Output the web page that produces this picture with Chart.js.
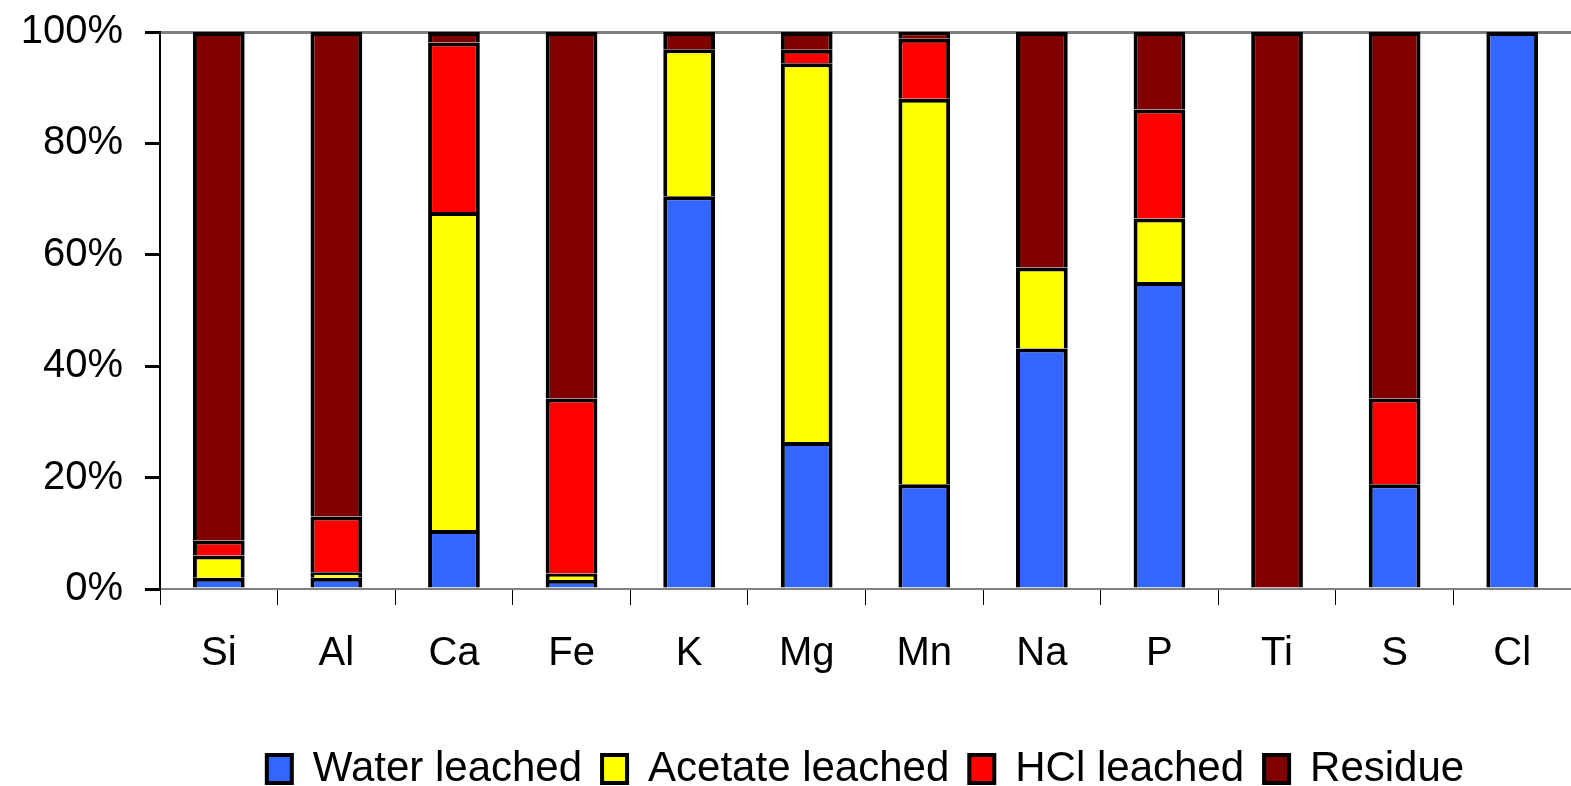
<!DOCTYPE html>
<html>
<head>
<meta charset="utf-8">
<script src="https://cdn.jsdelivr.net/npm/chart.js@4/dist/chart.umd.min.js"></script>
<style>
  html, body { margin: 0; padding: 0; background: #fff; }
  #wrap { width: 1571px; height: 786px; }
</style>
</head>
<body>
<div id="wrap"><canvas id="graph"></canvas></div>
<script>
const elements = ['Si', 'Al', 'Ca', 'Fe', 'K', 'Mg', 'Mn', 'Na', 'P', 'Ti', 'S', 'Cl']
const waterLeached   = [2.0, 2.0, 10.6, 1.6, 70.5, 26.4, 18.8, 43.2, 55.1, 0, 18.8, 100]
const acetateLeached = [4.0, 1.0, 57.1, 1.2, 26.4, 68.0, 69.2, 14.5, 11.4, 0, 0, 0]
const hclLeached     = [2.7, 10.0, 30.4, 31.4, 0, 2.4, 10.8, 0, 19.6, 0, 15.4, 0]
const residue        = [91.3, 87.0, 1.9, 65.8, 3.1, 3.2, 1.2, 42.3, 13.9, 100, 65.8, 0]
const yTicks = [0, 20, 40, 60, 80, 100]

const font = "'Liberation Sans', Arial, sans-serif"

const mkSet = (label, data, color) => ({
    label: label,
    data: data,
    backgroundColor: color,
    borderColor: '#000',
    borderWidth: 4,
    barPercentage: 0.44,
    categoryPercentage: 1
})

const graph = document.getElementById('graph')

const myChart = new Chart(graph, {
    type: 'bar',
    data: {
        labels: elements,
        datasets: [
            mkSet('Water leached', waterLeached, '#3366FF'),
            mkSet('Acetate leached', acetateLeached, '#FFFF00'),
            mkSet('HCl leached', hclLeached, '#FF0000'),
            mkSet('Residue', residue, '#800000')
        ]
    },
    options: {
        responsive: true,
        maintainAspectRatio: false,
        animation: false,
        layout: { padding: { top: 0, right: 0, left: 0, bottom: -14 } },
        plugins: {
            tooltip: { enabled: false },
            legend: {
                position: 'bottom',
                fullSize: false,
                labels: {
                    color: '#000',
                    font: { family: font, size: 42 },
                    boxWidth: 25,
                    boxHeight: 28,
                    padding: 20
                }
            }
        },
        scales: {
            x: {
                stacked: true,
                grid: { color: 'transparent', tickColor: '#000', tickLength: 16, offset: true },
                border: { color: '#808080', width: 2 },
                ticks: { color: '#000', font: { family: font, size: 40 }, padding: 25 },
                afterFit: (s) => { s.height = 139 }
            },
            y: {
                stacked: true,
                min: 0,
                max: 100,
                afterBuildTicks: (s) => { s.ticks = yTicks.map(v => ({ value: v })) },
                grid: {
                    color: (c) => c.tick && c.tick.value === 100 ? '#808080' : 'transparent',
                    lineWidth: 3,
                    tickColor: '#000',
                    tickLength: 15
                },
                border: { color: '#000', width: 2 },
                ticks: {
                    color: '#000',
                    font: { family: font, size: 40, lineHeight: 0.5 },
                    padding: 22,
                    callback: (v) => v + '%'
                },
                afterFit: (s) => { s.width = 160 }
            }
        }
    }
})
</script>
</body>
</html>
